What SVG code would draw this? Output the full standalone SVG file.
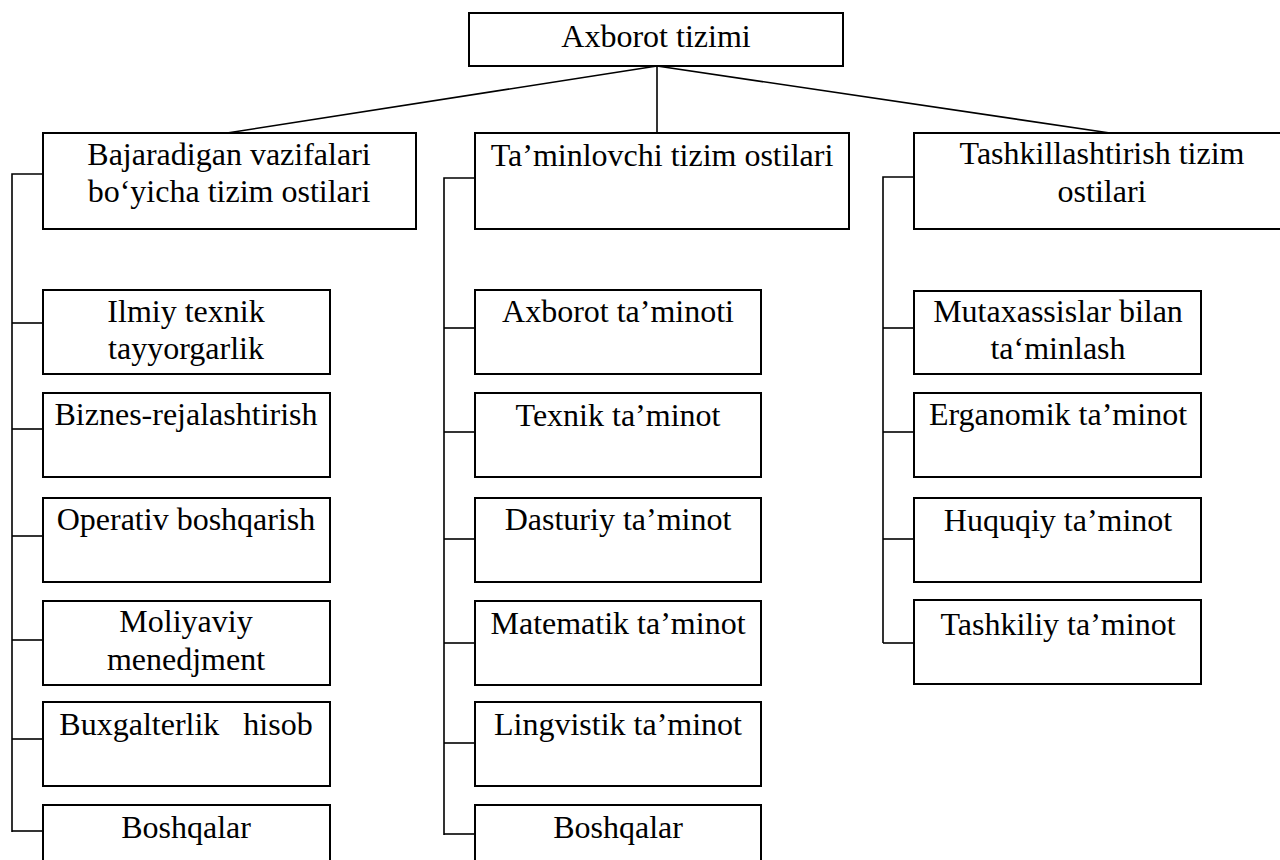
<svg xmlns="http://www.w3.org/2000/svg" width="1280" height="860" viewBox="0 0 1280 860">
  <style>
    .box { fill: #ffffff; stroke: #000000; stroke-width: 2; }
    .lbl { font-family: "Liberation Serif", "Times New Roman", serif; font-size: 32px; fill: #000000; text-anchor: middle; white-space: pre; }
    .wire { fill: none; stroke: #000000; stroke-width: 1.6; }
  </style>
  <rect width="1280" height="860" fill="#ffffff"/>

  <!-- connectors -->
  <g id="connectors" class="wire">
    <line x1="657" y1="66" x2="227" y2="133"/>
    <line x1="657" y1="66" x2="657" y2="133"/>
    <line x1="657" y1="66" x2="1110" y2="133"/>
    <!-- left column spine -->
    <polyline points="43,174 12,174 12,832"/>
    <line x1="12" y1="323" x2="43" y2="323"/>
    <line x1="12" y1="429" x2="43" y2="429"/>
    <line x1="12" y1="536" x2="43" y2="536"/>
    <line x1="12" y1="640" x2="43" y2="640"/>
    <line x1="12" y1="739" x2="43" y2="739"/>
    <line x1="12" y1="831" x2="43" y2="831"/>
    <!-- middle column spine -->
    <polyline points="475,178 444,178 444,835"/>
    <line x1="444" y1="328" x2="475" y2="328"/>
    <line x1="444" y1="432" x2="475" y2="432"/>
    <line x1="444" y1="539" x2="475" y2="539"/>
    <line x1="444" y1="643" x2="475" y2="643"/>
    <line x1="444" y1="743" x2="475" y2="743"/>
    <line x1="444" y1="834" x2="475" y2="834"/>
    <!-- right column spine -->
    <polyline points="914,177 883,177 883,643"/>
    <line x1="883" y1="328" x2="914" y2="328"/>
    <line x1="883" y1="432" x2="914" y2="432"/>
    <line x1="883" y1="539" x2="914" y2="539"/>
    <line x1="883" y1="643" x2="914" y2="643"/>
  </g>

  <!-- root -->
  <g id="axborot-tizimi">
    <rect class="box" x="469" y="13" width="374" height="53"/>
    <text class="lbl" x="656" y="47">Axborot tizimi</text>
  </g>

  <!-- second level -->
  <g id="bajaradigan">
    <rect class="box" x="43" y="133" width="373" height="96"/>
    <text class="lbl" x="229" y="165">Bajaradigan vazifalari</text>
    <text class="lbl" x="229" y="202">bo‘yicha tizim ostilari</text>
  </g>
  <g id="taminlovchi">
    <rect class="box" x="475" y="133" width="374" height="96"/>
    <text class="lbl" x="662" y="166">Ta’minlovchi tizim ostilari</text>
  </g>
  <g id="tashkillashtirish">
    <rect class="box" x="914" y="133" width="376" height="96"/>
    <text class="lbl" x="1102" y="164">Tashkillashtirish tizim</text>
    <text class="lbl" x="1102" y="202">ostilari</text>
  </g>

  <!-- left column -->
  <g id="ilmiy-texnik">
    <rect class="box" x="43" y="290" width="287" height="84"/>
    <text class="lbl" x="186" y="322">Ilmiy texnik</text>
    <text class="lbl" x="186" y="359">tayyorgarlik</text>
  </g>
  <g id="biznes">
    <rect class="box" x="43" y="393" width="287" height="84"/>
    <text class="lbl" x="186" y="425">Biznes-rejalashtirish</text>
  </g>
  <g id="operativ">
    <rect class="box" x="43" y="498" width="287" height="84"/>
    <text class="lbl" x="186" y="530">Operativ boshqarish</text>
  </g>
  <g id="moliyaviy">
    <rect class="box" x="43" y="601" width="287" height="84"/>
    <text class="lbl" x="186" y="632">Moliyaviy</text>
    <text class="lbl" x="186" y="670">menedjment</text>
  </g>
  <g id="buxgalterlik">
    <rect class="box" x="43" y="702" width="287" height="84"/>
    <text class="lbl" x="186" y="735">Buxgalterlik   hisob</text>
  </g>
  <g id="boshqalar-1">
    <rect class="box" x="43" y="805" width="287" height="84"/>
    <text class="lbl" x="186" y="838">Boshqalar</text>
  </g>

  <!-- middle column -->
  <g id="axborot-taminoti">
    <rect class="box" x="475" y="290" width="286" height="84"/>
    <text class="lbl" x="618" y="322">Axborot ta’minoti</text>
  </g>
  <g id="texnik">
    <rect class="box" x="475" y="393" width="286" height="84"/>
    <text class="lbl" x="618" y="426">Texnik ta’minot</text>
  </g>
  <g id="dasturiy">
    <rect class="box" x="475" y="498" width="286" height="84"/>
    <text class="lbl" x="618" y="530">Dasturiy ta’minot</text>
  </g>
  <g id="matematik">
    <rect class="box" x="475" y="601" width="286" height="84"/>
    <text class="lbl" x="618" y="634">Matematik ta’minot</text>
  </g>
  <g id="lingvistik">
    <rect class="box" x="475" y="702" width="286" height="84"/>
    <text class="lbl" x="618" y="735">Lingvistik ta’minot</text>
  </g>
  <g id="boshqalar-2">
    <rect class="box" x="475" y="805" width="286" height="84"/>
    <text class="lbl" x="618" y="838">Boshqalar</text>
  </g>

  <!-- right column -->
  <g id="mutaxassislar">
    <rect class="box" x="914" y="291" width="287" height="83"/>
    <text class="lbl" x="1058" y="322">Mutaxassislar bilan</text>
    <text class="lbl" x="1058" y="359">ta‘minlash</text>
  </g>
  <g id="erganomik">
    <rect class="box" x="914" y="393" width="287" height="84"/>
    <text class="lbl" x="1058" y="425">Erganomik ta’minot</text>
  </g>
  <g id="huquqiy">
    <rect class="box" x="914" y="498" width="287" height="84"/>
    <text class="lbl" x="1058" y="531">Huquqiy ta’minot</text>
  </g>
  <g id="tashkiliy">
    <rect class="box" x="914" y="600" width="287" height="84"/>
    <text class="lbl" x="1058" y="635">Tashkiliy ta’minot</text>
  </g>
</svg>
